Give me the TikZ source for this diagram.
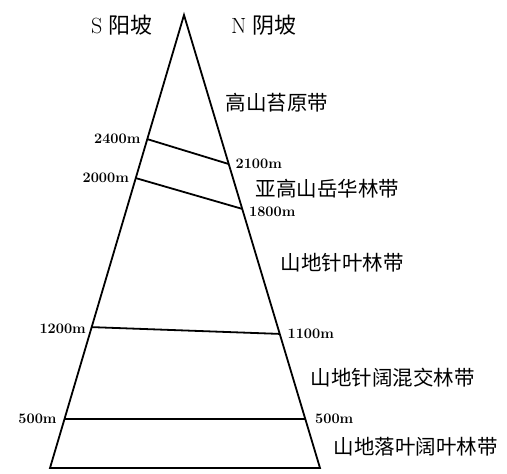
\documentclass[tikz,border=0pt]{standalone}
\usepackage{fontspec}
\newfontfamily\cjk{Noto Sans CJK SC}
\usetikzlibrary{calc, positioning}

\begin{document}
\begin{tikzpicture}[x=1pt, y=-1pt, line width=1.8pt,
    zone/.style={font=\cjk\fontsize{20.5}{24}\selectfont, inner sep=0pt, anchor=west},
    alt/.style={font=\bfseries\fontsize{14.5}{17}\selectfont, inner sep=0pt},
    slope/.style={font=\fontsize{22}{26}\selectfont, inner sep=0pt}]
        \useasboundingbox (0,0) rectangle (507,474);

        % Berg
        \coordinate (top) at (184,15);
        \coordinate (bl) at (50,468);
        \coordinate (br) at (320,468);
        \draw[line join=miter] (top) -- (bl) -- (br) -- cycle;

        % Hellingen
        \node[slope] (south) at (122,25) {S {\cjk 阳坡}};
        \node[slope] (north) at (264,25) {N {\cjk 阴坡}};

        % Grenzen zuidhelling
        \coordinate (s2400) at ($(top)!0.274!(bl)$);
        \coordinate (s2000) at ($(top)!0.360!(bl)$);
        \coordinate (s1200) at ($(top)!0.689!(bl)$);
        \coordinate (s500) at ($(top)!0.892!(bl)$);

        % Grenzen noordhelling
        \coordinate (n2100) at ($(top)!0.329!(br)$);
        \coordinate (n1800) at ($(top)!0.428!(br)$);
        \coordinate (n1100) at ($(top)!0.704!(br)$);
        \coordinate (n500) at ($(top)!0.892!(br)$);

        % Grenslijnen
        \draw (s2400) -- (n2100);
        \draw (s2000) -- (n1800);
        \draw (s1200) -- (n1100);
        \draw (s500) -- (n500);

        % Hoogtes
        \node[alt, left=6pt of s2400] (l2400) {2400m};
        \node[alt, left=6pt of s2000] (l2000) {2000m};
        \node[alt, left=5pt of s1200, yshift=-2pt] (l1200) {1200m};
        \node[alt, left=7pt of s500] (l500s) {500m};
        \node[alt, right=6pt of n2100] (l2100) {2100m};
        \node[alt, right=6pt of n1800, yshift=-3pt] (l1800) {1800m};
        \node[alt, right=7pt of n1100] (l1100) {1100m};
        \node[alt, right=9pt of n500] (l500n) {500m};

        % Vegetatiegordels
        \node[zone] (tundra) at (225,103) {高山苔原带};
        \node[zone] (subalpine) at (255,189) {亚高山岳华林带};
        \node[zone] (conifer) at (280,263) {山地针叶林带};
        \node[zone] (mixed) at (310,378) {山地针阔混交林带};
        \node[zone] (broadleaf) at (333,447) {山地落叶阔叶林带};
    \end{tikzpicture}
\end{document}
